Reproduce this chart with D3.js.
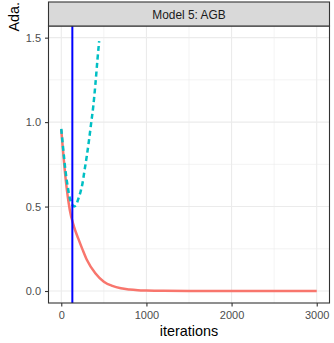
<!DOCTYPE html>
<html><head><meta charset="utf-8">
<script src="https://cdn.jsdelivr.net/npm/d3@7"></script>
<style>body{margin:0;background:#fff}svg{display:block}text{font-family:"Liberation Sans",Arial,sans-serif}</style>
</head><body>
<script>
const panelTitle = "Model 5: AGB";
const xLabel = "iterations";
const yLabel = "Ada.";
const xTicks = [0, 1000, 2000, 3000];
const xMinor = [500, 1500, 2500];
const yTicks = [0, 0.5, 1.0, 1.5];
const yMinor = [0.25, 0.75, 1.25];
const vlineX = 130;
const trainIter = [0, 50, 100, 150, 200, 250, 300, 400, 500, 600, 700, 800, 900, 1000, 1200, 1500, 2000, 2500, 3000];
const trainVal  = [0.955, 0.67, 0.48, 0.38, 0.31, 0.245, 0.185, 0.105, 0.055, 0.03, 0.016, 0.009, 0.005, 0.003, 0.001, 0.0003, 0, 0, 0];
const testIter = [0, 25, 50, 75, 100, 125, 150, 175, 200, 225, 250, 275, 300, 325, 350, 375, 400, 425, 445];
const testVal  = [0.96, 0.83, 0.71, 0.62, 0.55, 0.515, 0.50, 0.51, 0.545, 0.585, 0.64, 0.72, 0.80, 0.89, 0.99, 1.09, 1.22, 1.37, 1.48];

const W = 334, H = 343;
const P = {l: 48.5, r: 329.5, t: 26, b: 303};
const svg = d3.select("body").append("svg").attr("width", W).attr("height", H);
const x = d3.scaleLinear().domain([-150, 3150]).range([P.l, P.r]);
const y = d3.scaleLinear().domain([-0.071, 1.569]).range([P.b, P.t]);

svg.append("rect").attr("x", P.l).attr("y", P.t).attr("width", P.r - P.l).attr("height", P.b - P.t).attr("fill", "#fff");
const g = svg.append("g");
xMinor.forEach(v => g.append("line").attr("x1", x(v)).attr("x2", x(v)).attr("y1", P.t).attr("y2", P.b).attr("stroke", "#EBEBEB").attr("stroke-width", 0.6));
yMinor.forEach(v => g.append("line").attr("y1", y(v)).attr("y2", y(v)).attr("x1", P.l).attr("x2", P.r).attr("stroke", "#EBEBEB").attr("stroke-width", 0.6));
xTicks.forEach(v => g.append("line").attr("x1", x(v)).attr("x2", x(v)).attr("y1", P.t).attr("y2", P.b).attr("stroke", "#EBEBEB").attr("stroke-width", 1.1));
yTicks.forEach(v => g.append("line").attr("y1", y(v)).attr("y2", y(v)).attr("x1", P.l).attr("x2", P.r).attr("stroke", "#EBEBEB").attr("stroke-width", 1.1));

svg.append("clipPath").attr("id", "c").append("rect").attr("x", P.l).attr("y", P.t).attr("width", P.r - P.l).attr("height", P.b - P.t);
const pl = svg.append("g").attr("clip-path", "url(#c)");
const line = d3.line().x(d => x(d[0])).y(d => y(d[1])).curve(d3.curveMonotoneX);
pl.append("path").datum(trainIter.map((v, i) => [v, trainVal[i]])).attr("d", line)
  .attr("fill", "none").attr("stroke", "#F8766D").attr("stroke-width", 2.5);
pl.append("path").datum(testIter.map((v, i) => [v, testVal[i]])).attr("d", line)
  .attr("fill", "none").attr("stroke", "#00BFC4").attr("stroke-width", 2.5).attr("stroke-dasharray", "5,3.5");
pl.append("line").attr("x1", x(vlineX)).attr("x2", x(vlineX)).attr("y1", P.t).attr("y2", P.b)
  .attr("stroke", "#0000FF").attr("stroke-width", 2);

svg.append("rect").attr("x", P.l).attr("y", P.t).attr("width", P.r - P.l).attr("height", P.b - P.t)
  .attr("fill", "none").attr("stroke", "#333333").attr("stroke-width", 1.1);
svg.append("rect").attr("x", P.l).attr("y", 2).attr("width", P.r - P.l).attr("height", P.t - 2)
  .attr("fill", "#D9D9D9").attr("stroke", "#333333").attr("stroke-width", 1.1);
svg.append("text").attr("x", (P.l + P.r) / 2).attr("y", 14.5).attr("text-anchor", "middle").attr("dominant-baseline", "central")
  .attr("font-size", 11.9).attr("fill", "#1A1A1A").text(panelTitle);

const xa = svg.append("g").attr("transform", `translate(0,${P.b})`)
  .call(d3.axisBottom(x).tickValues(xTicks).tickSize(3.5).tickPadding(4.5).tickFormat(d3.format("d")));
const ya = svg.append("g").attr("transform", `translate(${P.l},0)`)
  .call(d3.axisLeft(y).tickValues(yTicks).tickSize(3.5).tickPadding(4).tickFormat(d3.format(".1f")));
[xa, ya].forEach(a => {
  a.select(".domain").remove();
  a.selectAll(".tick line").attr("stroke", "#333333").attr("stroke-width", 1.1);
  a.selectAll(".tick text").attr("fill", "#4D4D4D").attr("font-size", 11).attr("font-family", "Liberation Sans, Arial, sans-serif");
});

svg.append("text").attr("x", (P.l + P.r) / 2).attr("y", 336).attr("text-anchor", "middle")
  .attr("font-size", 14.4).attr("fill", "#000").text(xLabel);
svg.append("text").attr("transform", "translate(18.5,31.5) rotate(-90)").attr("text-anchor", "start")
  .attr("font-size", 14.4).attr("fill", "#000").text(yLabel);
</script>
</body></html>
